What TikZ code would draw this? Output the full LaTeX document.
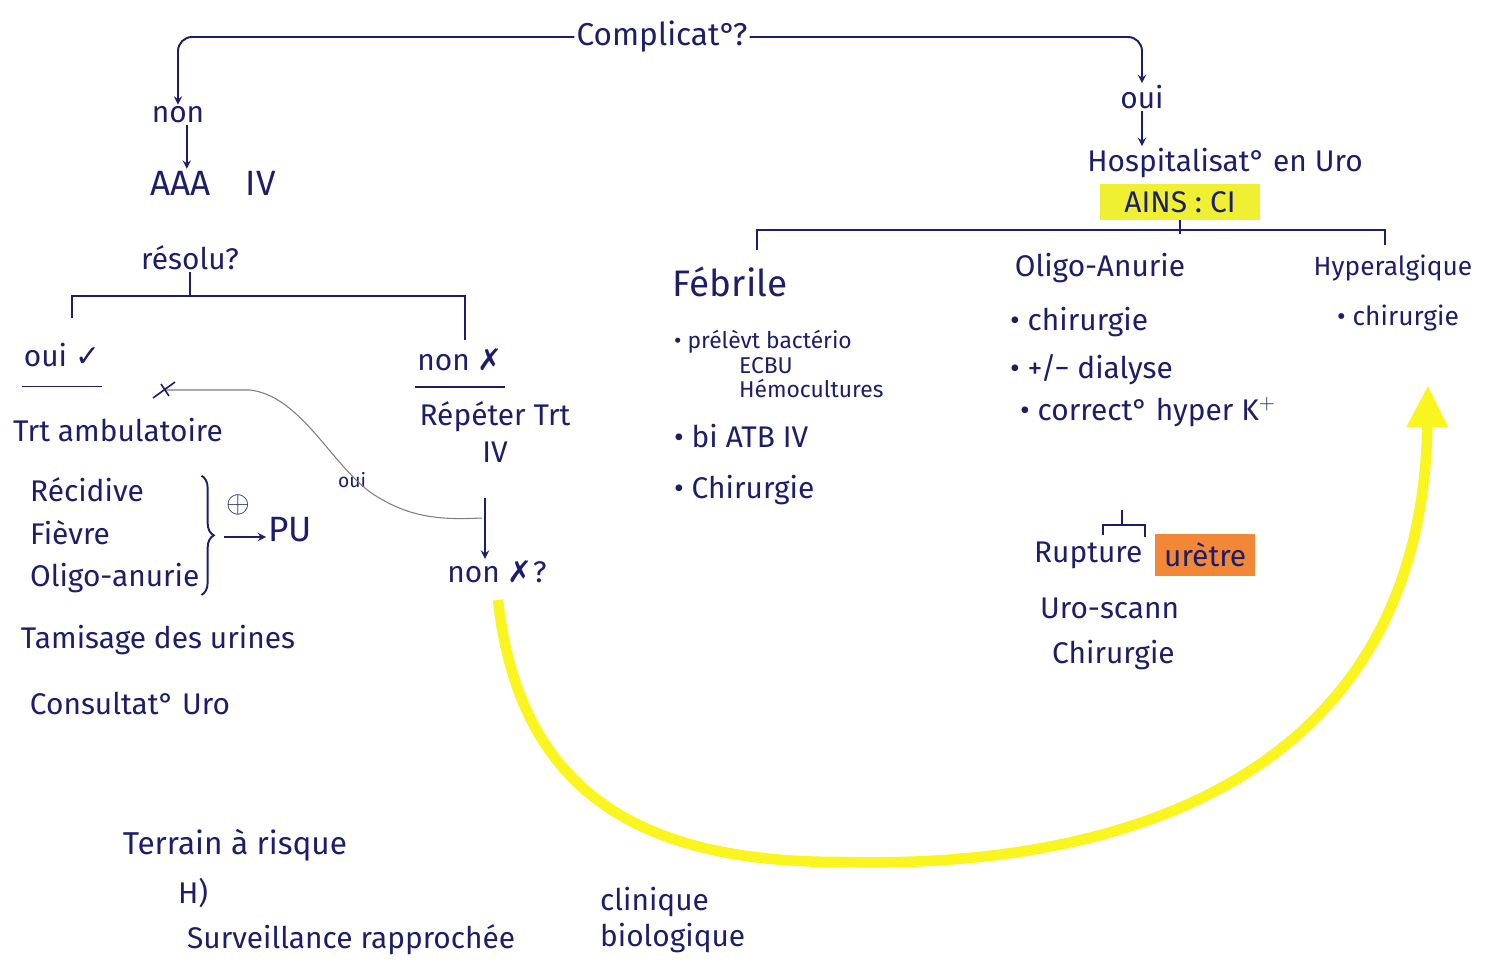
\documentclass[tikz,border=0pt]{standalone}
\usepackage{fontspec}
\setmainfont{Fira Sans}
\newfontfamily\symfont{DejaVu Sans}
\usetikzlibrary{positioning, arrows, arrows.meta, decorations.pathreplacing}
\definecolor{ink}{RGB}{28,30,105}
\definecolor{hlyellow}{RGB}{240,240,50}
\definecolor{hlorange}{RGB}{242,135,55}
\definecolor{marker}{RGB}{250,245,30}
\definecolor{pencil}{RGB}{125,125,130}
\tikzstyle{txt} = [text=ink, font=\fontsize{17}{21}\selectfont, inner sep=1pt]
\tikzstyle{small} = [text=ink, font=\fontsize{13}{14}\selectfont, inner sep=1pt, align=left]
\tikzstyle{arrow} = [line width=1.1pt, draw=ink, ->, >=stealth]
\tikzstyle{tree} = [line width=1.1pt, draw=ink]
\tikzstyle{hlarrow} = [line width=6pt, draw=marker, -{Triangle[length=24pt,width=22pt]}]
\tikzstyle{pencilline} = [line width=0.6pt, draw=pencil]

\begin{document}
\begin{tikzpicture}[x=0.02cm, y=-0.02cm]
	\useasboundingbox (0,0) rectangle (1495,977);

	% question
	\node (cplx) [txt, font=\fontsize{18}{21}\selectfont] at (662,37) {Complicat°?};

	% branche non
	\node (non) [txt] at (178,115) {non};
	\node (aaa) [txt, font=\fontsize{20}{24}\selectfont] at (213,183) {AAA\quad IV};
	\node (resolu) [txt] at (190,258) {résolu?};
	\node (oui) [txt] at (62,355) {oui {\symfont ✓}};
	\node (trt) [txt] at (118,430) {Trt ambulatoire};
	\node (recid) [txt, anchor=west] at (28,490) {Récidive};
	\node (fievre) [txt, anchor=west] at (28,533) {Fièvre};
	\node (olig) [txt, anchor=west] at (28,578) {Oligo-anurie};
	\node (plus) [txt] at (238,505) {$\oplus$};
	\node (pu) [txt, font=\fontsize{20}{24}\selectfont] at (290,530) {PU};
	\node (tamis) [txt] at (158,640) {Tamisage des urines};
	\node (consult) [txt] at (130,703) {Consultat° Uro};
	\node (nonx) [txt] at (460,360) {non {\symfont ✗}};
	\node (rep) [txt, align=center] at (495,432) {Répéter Trt\\IV};
	\node (nonq) [txt] at (497,572) {non {\symfont ✗}?};
	\node (ouilbl) [text=ink, font=\fontsize{11}{12}\selectfont] at (352,480) {oui};

	% branche oui
	\node (oui2) [txt] at (1142,97) {oui};
	\node (hosp) [txt] at (1225,163) {Hospitalisat° en Uro};
	\node (ains) [txt, fill=hlyellow, inner xsep=14pt, inner ysep=4pt] at (1180,202) {AINS : CI};
	\node (feb) [txt, font=\fontsize{21}{24}\selectfont] at (730,282) {Fébrile};
	\node (febl) [small, anchor=north west] at (672,328) {• prélèvt bactério\\\hspace*{1.3cm}ECBU\\\hspace*{1.3cm}Hémocultures};
	\node (atb) [txt, anchor=west] at (672,436) {• bi ATB IV};
	\node (chir1) [txt, anchor=west] at (672,490) {• Chirurgie};
	\node (oligo) [txt] at (1100,268) {Oligo-Anurie};
	\node (chir2) [txt, anchor=west] at (1008,322) {• chirurgie};
	\node (dial) [txt, anchor=west] at (1008,370) {• +/− dialyse};
	\node (kplus) [txt, anchor=west] at (1018,412) {• correct° hyper K$^+$};
	\node (hyper) [txt, font=\fontsize{15}{18}\selectfont] at (1393,268) {Hyperalgique};
	\node (chir3) [txt, font=\fontsize{15}{18}\selectfont] at (1398,318) {• chirurgie};
	\node (rupt) [txt, anchor=west] at (1032,555) {Rupture};
	\node (ure) [txt, fill=hlorange, inner xsep=5pt, inner ysep=5pt, right=6pt of rupt] {urètre};
	\node (uroscan) [txt, anchor=west] at (1038,608) {Uro-scann};
	\node (chir4) [txt, anchor=west] at (1050,655) {Chirurgie};

	% bas
	\node (terrain) [txt, font=\fontsize{18}{22}\selectfont] at (235,845) {Terrain à risque};
	\node (hh) [txt] at (193,893) {H)};
	\node (surv) [txt, anchor=west] at (185,940) {Surveillance rapprochée};
	\node (clin) [txt, align=left, anchor=west] at (598,920) {clinique\\biologique};

	\coordinate (rbl) at (72,296);
	\coordinate (rbr) at (465,296);
	\coordinate (hbl) at (757,230);
	\coordinate (hbr) at (1385,230);
	\coordinate (sb) at (1122,525);
	\coordinate (jn) at (485,498);
	\coordinate (jn2) at (482,518);
	\coordinate (xs) at (165,390);
	\coordinate (pua) at (224,537);
	\coordinate (ys) at (498,600);
	\coordinate (ye) at (1428,385);

	\draw [arrow, rounded corners=8] (cplx.west) -| (non.north);
	\draw [arrow, rounded corners=8] (cplx.east) -| (oui2.north);
	\draw [arrow] ([xshift=5pt]non.south) -- ([xshift=5pt]non.south |- aaa.north);
	\draw [arrow] (oui2.south) -- (oui2.south |- hosp.north);

	\draw [tree] (resolu.south) -- (resolu.south |- rbl);
	\draw [tree] (rbl) ++(0,22) -- (rbl) -- (rbr) -- ++(0,44);
	\draw [tree] (ains.south) -- ++(0,14);
	\draw [tree] (hbl) ++(0,20) -- (hbl) -- (hbr) -- ++(0,15);
	\draw [tree] (sb) -- ++(0,-15);
	\draw [tree] (sb) ++(-19,10) -- ++(0,-10) -- ++(42,0) -- ++(0,12);

	\draw [tree] ([yshift=-10pt]oui.south west) -- ([yshift=-10pt]oui.south east);
	\draw [tree] ([yshift=-8pt]nonx.south west) -- ([yshift=-8pt]nonx.south east);
	\draw [tree, decorate, decoration={brace, amplitude=7pt}] (olig.east |- recid.north) -- (olig.south east);
	\draw [arrow] (pua) -- (pu.west |- pua);

	\draw [arrow] (jn) -- (jn |- nonq.north);
	\draw [pencilline] (xs) -- (250,390) .. controls (300,396) and (330,462) .. (370,492) .. controls (408,518) and (440,520) .. (jn2);
	\draw [ink, line width=0.9pt] (xs) ++(-12,8) -- ++(22,-16) (xs) ++(-4,-6) -- ++(8,12);

	\draw [hlarrow] (ys) .. controls (520,800) and (650,862) .. (840,862) .. controls (1150,870) and (1422,760) .. (ye);

\end{tikzpicture}
\end{document}
